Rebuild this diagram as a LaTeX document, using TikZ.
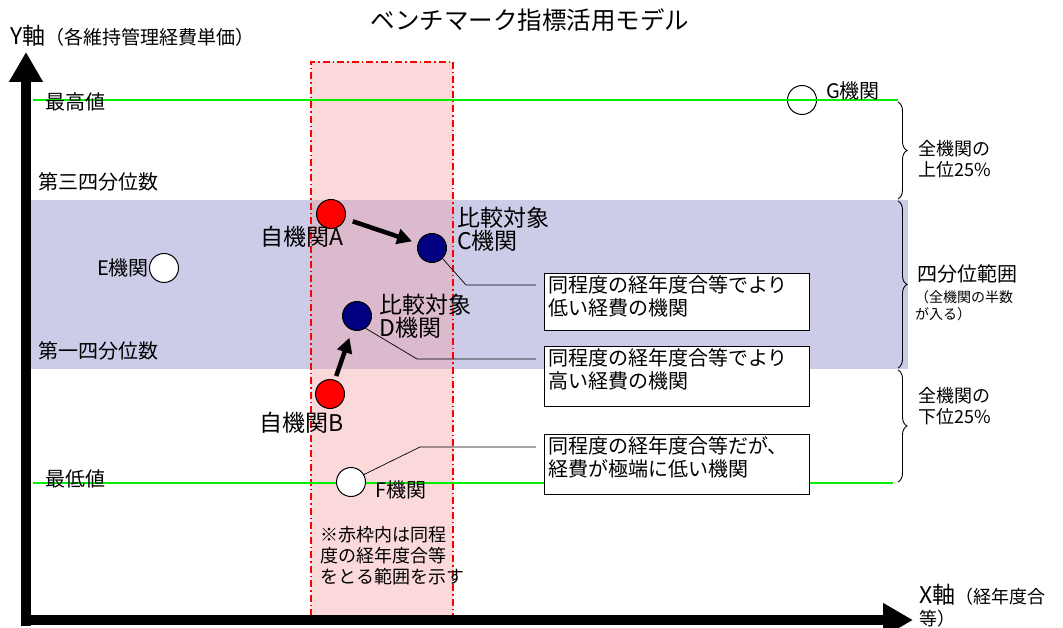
\documentclass[tikz,border=0pt]{standalone}
\usepackage{fontspec}
\newfontfamily\jp{Noto Sans CJK JP}
\usetikzlibrary{arrows.meta,decorations.pathreplacing}
\definecolor{bandc}{RGB}{204,204,232}
\definecolor{pinkc}{RGB}{244,160,165}
\definecolor{navyc}{RGB}{0,0,128}
\definecolor{grnc}{RGB}{0,240,0}
\begin{document}
\begin{tikzpicture}[x=1pt,y=-1pt,
  lab/.style={inner sep=0pt, anchor=west, align=left},
  t14/.style={font=\jp\fontsize{14pt}{17pt}\selectfont},
  t18/.style={font=\jp\fontsize{18pt}{21pt}\selectfont},
  t20/.style={font=\jp\fontsize{20pt}{23pt}\selectfont},
  t23/.style={font=\jp\fontsize{23pt}{23pt}\selectfont},
  t24/.style={font=\jp\fontsize{24.5pt}{26pt}\selectfont},
  dot/.style={circle, draw=black, line width=1pt, minimum size=29pt, inner sep=0pt},
  calloutbox/.style={draw=black, fill=white, line width=0.9pt, minimum width=265pt, inner sep=0pt, anchor=north west},
  conn/.style={draw=black, line width=0.7pt},
  bigarrow/.style={line width=4.5pt, -{Triangle[length=15pt,width=15pt]}},
  axis/.style={line width=10pt, -{Triangle[length=30pt,width=32pt]}},
  quart/.style={decorate, decoration={brace, amplitude=9pt}, line width=0.9pt},
  greenline/.style={grnc, line width=1.6pt}
]
\useasboundingbox (0,0) rectangle (1063,628);

% interquartile band
\fill[bandc] (30,200) rectangle (908,369);
% same-aging range (red frame)
\fill[pinkc, opacity=0.4] (311,62) rectangle (453,616);
\draw[red, line width=1.2pt, dash pattern=on 7pt off 3pt on 1.5pt off 3pt] (311,616) -- (311,62) -- (453,62) -- (453,616);

% G circle under the green line
\node[dot, fill=white] (G) at (802,100) {};

% green lines
\draw[greenline] (33,100) -- (898,100);
\draw[greenline] (33,483) -- (893,483);

% axes
\draw[axis] (26,626) -- (26,52);
\draw[axis] (21,620) -- (913,620);

% title and axis labels
\node[t24] (title) at (530,20) {ベンチマーク指標活用モデル};
\node[lab, t23] (ylab) at (10,36) {Y軸{\fontsize{19pt}{23pt}\selectfont （各維持管理経費単価）}};
\node[lab, t23] (xlab) at (919,595) {X軸{\fontsize{18pt}{21pt}\selectfont （経年度合}};
\node[lab, t18] (xlab2) at (919,619) {等）};

% left labels
\node[lab, t20] (max) at (45,102) {最高値};
\node[lab, t20] (q3) at (38,182) {第三四分位数};
\node[lab, t20] (q1) at (38,351) {第一四分位数};
\node[lab, t20] (min) at (45,479) {最低値};

% circles
\node[dot, fill=white] (E) at (164,268) {};
\node[dot, fill=white] (F) at (351,482) {};
\node[dot, fill=red] (A) at (331,214) {};
\node[dot, fill=red] (B) at (330,394) {};
\node[dot, fill=navyc] (C) at (432,248) {};
\node[dot, fill=navyc] (D) at (357,316) {};

% circle labels
\node[t20, inner sep=0pt, anchor=east] (Elab) at (149,268) {E機関};
\node[lab, t20] (Glab) at (826,91) {G機関};
\node[lab, t20] (Flab) at (375,490) {F機関};
\node[t23, inner sep=0pt, anchor=east] (Alab) at (344,237) {自機関A};
\node[t23, inner sep=0pt, anchor=east] (Blab) at (344,423) {自機関B};
\node[lab, t23] (Clab) at (457,229) {比較対象\\C機関};
\node[lab, t23] (Dlab) at (379,316) {比較対象\\D機関};

% movement arrows
\draw[bigarrow, shorten <=8pt, shorten >=6pt] (A) -- (C);
\draw[bigarrow, shorten <=4pt, shorten >=8pt] (B) -- (D);

% callout boxes
\node[calloutbox, minimum height=57pt] (b1) at (544,273) {};
\node[calloutbox, minimum height=60pt] (b2) at (544,346) {};
\node[calloutbox, minimum height=60pt] (b3) at (544,434) {};
\node[lab, t20, anchor=north west] (b1t) at ([xshift=4pt,yshift=-2pt]b1.north west) {同程度の経年度合等でより\\低い経費の機関};
\node[lab, t20, anchor=north west] (b2t) at ([xshift=4pt,yshift=-2pt]b2.north west) {同程度の経年度合等でより\\高い経費の機関};
\node[lab, t20, anchor=north west] (b3t) at ([xshift=4pt,yshift=-2pt]b3.north west) {同程度の経年度合等だが、\\経費が極端に低い機関};

% connectors
\coordinate (k1) at (466,285);
\coordinate (k2) at (417,359);
\coordinate (k3) at (420,447);
\draw[conn, shorten >=8pt] (C.-45) -- (k1) -- (k1 -| b1.west);
\draw[conn, shorten >=8pt] (D.-55) -- (k2) -- (k2 -| b2.west);
\draw[conn, shorten >=8pt] (F.30) -- (k3) -- (k3 -| b3.west);

% note in red frame
\node[lab, t18, anchor=north west] (note) at (320,526) {※赤枠内は同程\\度の経年度合等\\をとる範囲を示す};

% braces
\draw[quart] (898,102) -- (898,199);
\draw[quart] (898,201) -- (898,368);
\draw[quart] (898,370) -- (898,482);
\node[lab, t18] (top25) at (918,159) {全機関の\\上位25\%};
\node[lab, t20] (iqr) at (917,274) {四分位範囲};
\node[lab, t14] (iqr2) at (915,306) {（全機関の半数\\が入る）};
\node[lab, t18] (bot25) at (918,406) {全機関の\\下位25\%};
\end{tikzpicture}
\end{document}
